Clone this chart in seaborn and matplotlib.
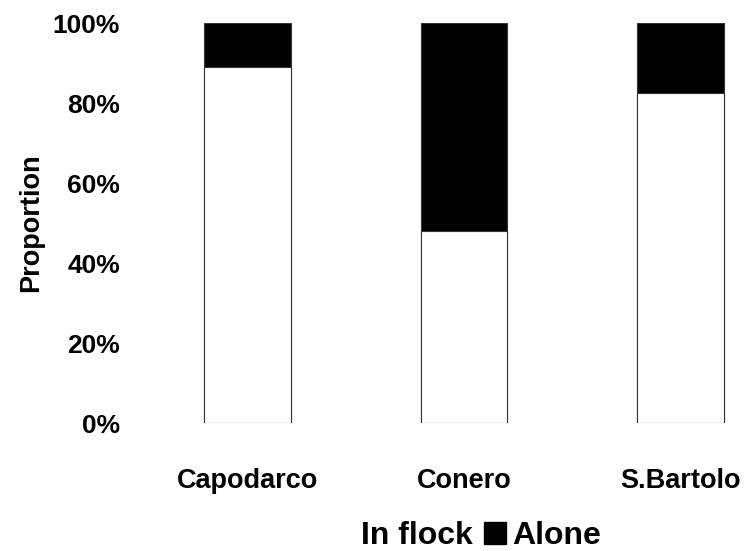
import numpy as np
import pandas as pd
import matplotlib
matplotlib.use("Agg")
import matplotlib.pyplot as plt
from matplotlib.patches import Patch
from matplotlib.ticker import PercentFormatter
import seaborn as sns

# Data
sites = ["Capodarco", "Conero", "S.Bartolo"]
in_flock = [89, 48, 82.5]
alone = [11, 52, 17.5]

df = pd.DataFrame({"site": sites, "in_flock": in_flock, "alone": alone})
df["total"] = df["in_flock"] + df["alone"]

sns.set_style("white")
plt.rcParams["font.family"] = ["Liberation Sans", "DejaVu Sans"]
plt.rcParams["font.weight"] = "bold"
plt.rcParams["text.color"] = "black"
plt.rcParams["xtick.color"] = "black"
plt.rcParams["ytick.color"] = "black"
plt.rcParams["axes.labelcolor"] = "black"

fig = plt.figure(figsize=(7.53, 5.51), dpi=100)
ax = fig.add_axes([0.2, 0.232, 0.79, 0.726])

# stacked: total drawn black, then the in-flock part white on top of it
sns.barplot(data=df, x="site", y="total", color="black", width=0.4,
            edgecolor="#333333", linewidth=0.8, ax=ax)
sns.barplot(data=df, x="site", y="in_flock", color="white", width=0.4,
            edgecolor="#333333", linewidth=0.8, ax=ax)

ax.set_ylim(0, 100)
ax.set_xlim(-0.448, 2.3)
ax.yaxis.set_major_formatter(PercentFormatter(decimals=0))
ax.set_yticks(np.arange(0, 101, 20))
ax.tick_params(axis="y", labelsize=19, pad=22, length=0, colors="black")
ax.tick_params(axis="x", labelsize=19.5, pad=32, length=0, colors="black")
ax.set_xlabel("")
ax.set_ylabel("Proportion", fontsize=19.5, fontweight="bold", labelpad=6,
              color="black")
sns.despine(ax=ax, left=True, bottom=True)

handles = [Patch(facecolor="white", edgecolor="none", label="In flock"),
           Patch(facecolor="black", edgecolor="black", label="Alone")]
fig.legend(handles=handles, loc="center", bbox_to_anchor=(0.62, 0.027),
           ncol=2, frameon=False, fontsize=23, handlelength=0.7,
           handleheight=0.7, handletextpad=0.2, columnspacing=0.35,
           labelcolor="black")

fig.savefig("out.png", dpi=100)
